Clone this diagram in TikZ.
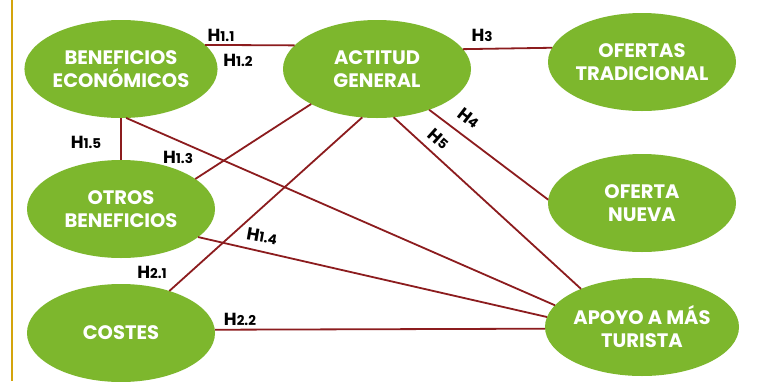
\documentclass[tikz,border=0pt]{standalone}
\usepackage{fontspec}
\setmainfont{Poppins}
\usetikzlibrary{shapes.geometric}
\definecolor{ellgreen}{HTML}{7DB72D}
\definecolor{linkred}{HTML}{8C1C1E}
\definecolor{goldline}{HTML}{D4A40C}
\tikzset{
  x=1pt,y=-1pt,
  var/.style={ellipse, fill=ellgreen, draw=none, minimum width=188pt, minimum height=98pt,
    inner sep=0pt, outer sep=0pt, text=white, align=center,
    font=\fontsize{19.5}{23}\selectfont\bfseries},
  link/.style={draw=linkred, line width=1.8pt},
  hyp/.style={font=\fontsize{17.5}{18}\selectfont\bfseries, text=black, inner sep=0pt}
}
\newcommand{\hyplabel}[1]{H{\fontsize{13.5}{14}\selectfont #1}}
\begin{document}
\begin{tikzpicture}
\useasboundingbox (0,0) rectangle (772,381);
\fill[white] (0,0) rectangle (772,381);
\draw[goldline, line width=2.2pt] (12,0) -- (12,381);

\node[var] (be) at (121,69) {BENEFICIOS\\ECONÓMICOS};
\node[var] (ag) at (377,69) {ACTITUD\\GENERAL};
\node[var] (ot) at (642,62) {OFERTAS\\TRADICIONAL};
\node[var] (ob) at (121,209) {OTROS\\BENEFICIOS};
\node[var] (on) at (642,203) {OFERTA\\NUEVA};
\node[var] (co) at (121,333) {COSTES};
\node[var] (ap) at (642,327) {APOYO A MÁS\\TURISTA};

\draw[link] (be.16) -- (ag.164);
\draw[link] (ag.13) -- (ot.171.8);
\draw[link] (ag.-38.3) -- (on.178);
\draw[link] (ag.-71.7) -- (ap.148);
\draw[link] (be.-84) -- (ap.166);
\draw[link] (ob.-20.6) -- (ap.174.5);
\draw[link] (co.2.44) -- (ap.181.2);
\draw[link] (ob.22) -- (ag.208.3);
\draw[link] (co.41) -- (ag.253);
\draw[link] (be.270) -- (ob.90);

\node[hyp] (h11) at (221,35) {\hyplabel{1.1}};
\node[hyp] (h12) at (238,60) {\hyplabel{1.2}};
\node[hyp] (h3) at (482,35) {\hyplabel{3}};
\node[hyp, rotate=-38] (h4) at (469,118) {\hyplabel{4}};
\node[hyp, rotate=-42] (h5) at (439,139) {\hyplabel{5}};
\node[hyp] (h15) at (86,142) {\hyplabel{1.5}};
\node[hyp] (h13) at (178,157) {\hyplabel{1.3}};
\node[hyp, rotate=-10] (h14) at (262,236) {\hyplabel{1.4}};
\node[hyp] (h21) at (152,272) {\hyplabel{2.1}};
\node[hyp] (h22) at (240,319) {\hyplabel{2.2}};
\end{tikzpicture}
\end{document}
